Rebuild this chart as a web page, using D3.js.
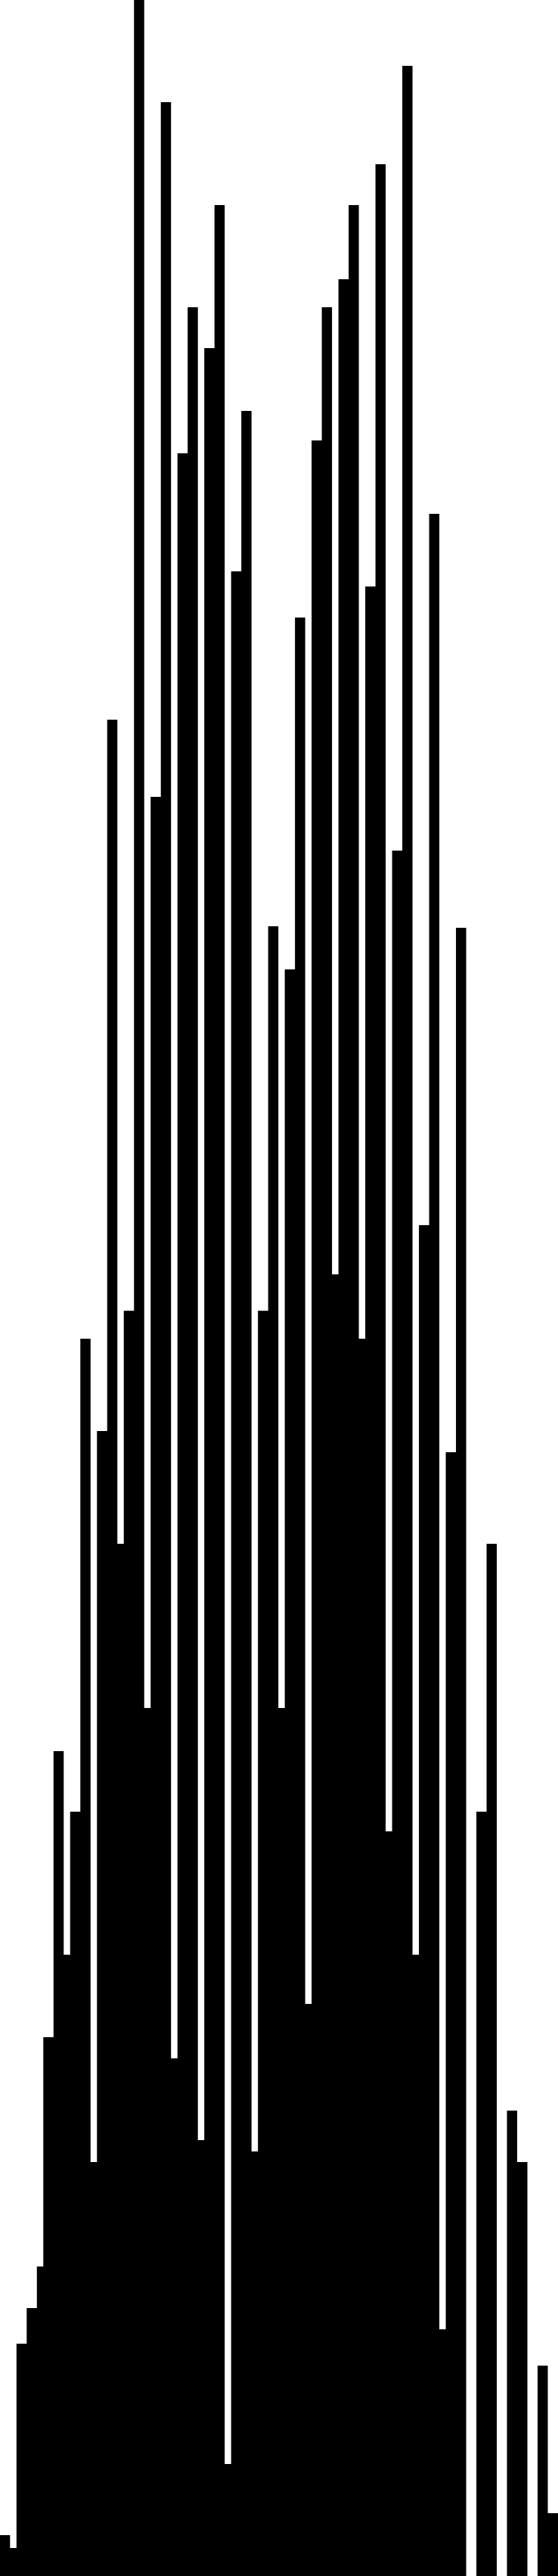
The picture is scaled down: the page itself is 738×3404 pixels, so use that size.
<!DOCTYPE html>
<html>
<head>
<meta charset="utf-8">
<script src="https://cdn.jsdelivr.net/npm/d3@7"></script>
<style>
  html, body { margin: 0; padding: 0; background: #fff; }
  svg { display: block; }
</style>
</head>
<body>
<svg id="chart" width="738" height="3404"></svg>
<script>
// Bin widths (data units) for each bar, left to right
const binWidths = [
  27,
  17,27,27, 17,27,27, 17,27,27, 17,27,27, 17,27,27, 17,27,27,
  17,27,27, 17,27,27, 17,27,27, 17,27,27, 17,27,27, 17,27,27,
  17,27,27, 17,27,27, 17,27,27, 17,27,27, 17,27,27,
  27,27,27, 27,27,27, 27,27,27
];
// Bar values
const values = [
  54, 37, 307, 354, 409, 712, 1090, 821, 1010, 1635,
  547, 1513, 2453, 1364, 1672, 3404, 1147, 2351, 3269, 684,
  2805, 2998, 576, 2944, 3133, 148, 2649, 2861, 561, 1672,
  2180, 1147, 2123, 2588, 756, 2822, 2998, 1720, 3035, 3133,
  1635, 2629, 3187, 984, 2280, 3317, 821, 1785, 2725, 326,
  1485, 2178, 0, 1010, 1364, 0, 615, 547, 0, 278,
  83
];

const W = 738, H = 3404;
let acc = 0;
const bins = values.map((v, i) => {
  const x0 = acc; acc += binWidths[i];
  return { x0, x1: acc, v };
});

const x = d3.scaleLinear().domain([0, acc]).range([-0.2, W]);
const y = d3.scaleLinear().domain([0, d3.max(values)]).range([H, 0]);

// Step outline of all bars as one shape (no seams between adjacent bars)
const pts = bins.flatMap(d => [[d.x0, d.v], [d.x1, d.v]]);
const area = d3.area()
  .x(p => x(p[0]))
  .y0(H)
  .y1(p => y(p[1]));

d3.select('#chart').append('path')
  .datum(pts)
  .attr('d', area)
  .attr('fill', '#000');
</script>
</body>
</html>
